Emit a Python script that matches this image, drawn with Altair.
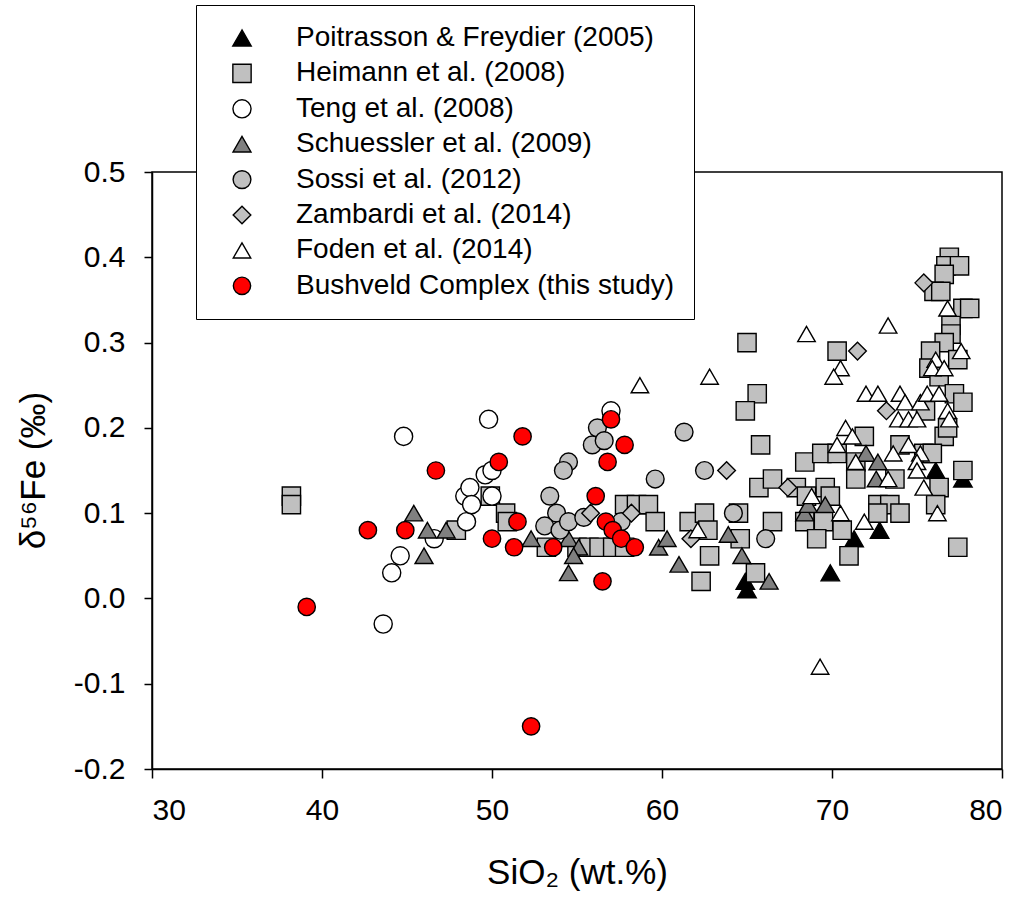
import altair as alt
import pandas as pd

series_names = [
    "Poitrasson & Freydier (2005)",
    "Heimann et al. (2008)",
    "Teng et al. (2008)",
    "Schuessler et al. (2009)",
    "Sossi et al. (2012)",
    "Zambardi et al. (2014)",
    "Foden et al. (2014)",
    "Bushveld Complex (this study)",
]
series_shapes = ["triangle-up", "square", "circle", "triangle-up", "circle", "diamond", "triangle-up", "circle"]
series_fills = ["#000000", "#c0c0c0", "#ffffff", "#808080", "#c0c0c0", "#c0c0c0", "#ffffff", "#ff0000"]
series_strokes = ["#000000"] * 8
series_sizes = [340, 300, 340, 340, 360, 380, 340, 470]

poit_x = [64.9, 65.0, 69.9, 71.3, 72.8, 76.1, 77.7]
poit_y = [0.02, 0.01, 0.03, 0.07, 0.08, 0.15, 0.14]

heim_x = [38.2, 38.2, 47.9, 49.9, 50.8, 50.9, 53.2, 55.0, 55.7, 56.3, 57.1, 57.8,
          57.8, 58.5, 59.2, 59.6, 61.6, 62.3, 62.5, 62.7, 62.8, 64.5, 64.6, 65.5,
          66.5, 65.0, 65.6, 64.9, 65.8, 65.7, 66.5,
          76.9, 76.7, 77.5, 76.6, 76.0, 76.4, 77.7, 78.1, 77.0, 77.0, 76.6, 75.8,
          75.7, 77.4, 76.3, 77.2, 77.7, 75.5, 76.6, 70.3, 77.7, 76.3, 76.1, 77.4,
          68.4, 69.4, 70.3, 71.9, 71.4, 71.4, 73.7, 74.0, 75.4, 67.9, 69.6, 69.9,
          68.5, 68.4, 69.5, 69.1, 70.6, 71.0, 72.7, 73.4, 72.7, 74.0, 75.9, 76.8]
heim_y = [0.12, 0.11, 0.08, 0.12, 0.10, 0.09, 0.06, 0.06, 0.06, 0.06, 0.06, 0.06,
          0.11, 0.11, 0.11, 0.09, 0.09, 0.02, 0.10, 0.08, 0.05, 0.10, 0.07, 0.03,
          0.09, 0.30, 0.24, 0.22, 0.18, 0.13, 0.14,
          0.40, 0.39, 0.39, 0.38, 0.36, 0.36, 0.34, 0.34, 0.32, 0.31, 0.30, 0.29,
          0.27, 0.28, 0.26, 0.24, 0.23, 0.22, 0.19, 0.29, 0.15, 0.13, 0.11, 0.06,
          0.16, 0.17, 0.17, 0.19, 0.16, 0.14, 0.14, 0.18, 0.17, 0.13, 0.13, 0.12,
          0.12, 0.09, 0.09, 0.07, 0.08, 0.05, 0.11, 0.11, 0.10, 0.10, 0.17, 0.20]

teng_x = [43.6, 44.1, 44.6, 44.8, 46.6, 48.4, 48.5, 48.7, 48.8, 49.6, 49.8, 50.0, 50.0, 57.0]
teng_y = [-0.03, 0.03, 0.05, 0.19, 0.07, 0.12, 0.09, 0.13, 0.11, 0.145, 0.21, 0.15, 0.12, 0.22]

schu_x = [45.4, 46.2, 47.3, 46.0, 52.3, 54.5, 55.1, 54.8, 54.5, 59.8, 60.3, 61.0,
          63.9, 64.7, 66.3, 68.4, 68.6, 69.6, 72.0, 72.7, 72.6]
schu_y = [0.10, 0.08, 0.08, 0.05, 0.07, 0.07, 0.06, 0.05, 0.03, 0.06, 0.07, 0.04,
          0.075, 0.05, 0.02, 0.10, 0.11, 0.11, 0.17, 0.16, 0.14]

sossi_x = [56.2, 55.9, 56.6, 54.5, 54.2, 61.3, 59.6, 53.4, 53.8, 53.1, 54.0, 54.5,
           55.4, 62.5, 64.2, 66.1, 57.6]
sossi_y = [0.20, 0.18, 0.185, 0.16, 0.15, 0.195, 0.14, 0.12, 0.10, 0.085, 0.08, 0.09,
           0.095, 0.15, 0.10, 0.07, 0.09]

zamb_x = [58.2, 55.8, 61.7, 63.8, 75.4, 71.5, 73.2, 67.4]
zamb_y = [0.10, 0.10, 0.07, 0.15, 0.37, 0.29, 0.22, 0.13]

foden_x = [58.7, 62.8, 62.1, 68.5, 73.3, 70.5, 70.1, 76.8, 76.1, 75.9, 76.6, 77.6,
           72.0, 72.7, 74.0, 74.3, 75.2, 75.6, 76.3, 73.9, 74.5, 75.0, 76.8, 76.9,
           70.8, 71.2, 70.3, 71.4, 73.6, 74.5, 75.2, 75.0, 75.0, 73.3, 75.4, 68.8,
           70.5, 71.9, 76.2, 69.3]
foden_y = [0.25, 0.26, 0.08, 0.31, 0.32, 0.27, 0.26, 0.34, 0.28, 0.27, 0.27, 0.29,
           0.24, 0.24, 0.24, 0.23, 0.23, 0.24, 0.24, 0.21, 0.21, 0.21, 0.22, 0.21,
           0.20, 0.19, 0.18, 0.16, 0.17, 0.18, 0.17, 0.16, 0.15, 0.14, 0.13, 0.12,
           0.10, 0.09, 0.10, -0.08]

bush_x = [39.1, 42.7, 44.9, 46.7, 50.0, 50.4, 51.3, 51.5, 51.8, 52.3, 53.6, 56.1,
          56.5, 56.7, 56.8, 57.0, 57.1, 57.6, 57.8, 58.4]
bush_y = [-0.01, 0.08, 0.08, 0.15, 0.07, 0.16, 0.06, 0.09, 0.19, -0.15, 0.06, 0.12,
          0.02, 0.09, 0.16, 0.21, 0.08, 0.07, 0.18, 0.06]

x_ticks = [30, 40, 50, 60, 70, 80]
y_ticks = [-0.2, -0.1, 0.0, 0.1, 0.2, 0.3, 0.4, 0.5]

all_x = [poit_x, heim_x, teng_x, schu_x, sossi_x, zamb_x, foden_x, bush_x]
all_y = [poit_y, heim_y, teng_y, schu_y, sossi_y, zamb_y, foden_y, bush_y]

rows = []
for order, (name, xs, ys) in enumerate(zip(series_names, all_x, all_y)):
    for xv, yv in zip(xs, ys):
        rows.append({"series": name, "sio2": xv, "fe": yv, "order": order})
df = pd.DataFrame(rows)

FONT = "Liberation Sans"

chart = alt.Chart(df).mark_point(
    filled=True, strokeWidth=1.4, opacity=1
).encode(
    x=alt.X("sio2:Q",
            scale=alt.Scale(domain=[30, 80], nice=False, zero=False),
            axis=alt.Axis(values=x_ticks, format="d", title="SiO₂ (wt.%)",
                          tickSize=9, labelPadding=17,
                          titleY=114, titleBaseline="alphabetic")),
    y=alt.Y("fe:Q",
            scale=alt.Scale(domain=[-0.2, 0.5], nice=False, zero=False),
            axis=alt.Axis(values=y_ticks, title="δ⁵⁶Fe (‰)",
                          labelExpr="datum.value < -0.0001 ? '-' + format(-datum.value, '.1f') : format(abs(datum.value), '.1f')",
                          tickSize=8, labelPadding=19,
                          titleX=-108, titleY=298, titleBaseline="alphabetic",
                          titleAngle=270, titleAlign="center")),
    shape=alt.Shape("series:N", scale=alt.Scale(domain=series_names, range=series_shapes), title=None),
    fill=alt.Fill("series:N", scale=alt.Scale(domain=series_names, range=series_fills), title=None),
    stroke=alt.Stroke("series:N", scale=alt.Scale(domain=series_names, range=series_strokes), title=None),
    size=alt.Size("series:N", scale=alt.Scale(domain=series_names, range=series_sizes), title=None),
    order=alt.Order("order:Q"),
).properties(
    width=850, height=597,
    padding={"left": 152, "top": 172, "right": 22, "bottom": 128},
    autosize=alt.AutoSizeParams(type="none"),
).configure_view(
    stroke="black", strokeWidth=1.5
).configure_axis(
    grid=False, domainColor="black", domainWidth=1.5, tickColor="black", tickWidth=1.5,
    labelFont=FONT, labelFontSize=30, labelColor="black",
    titleFont=FONT, titleFontSize=35, titleColor="black", titleFontWeight="normal",
).configure_legend(
    orient="none", legendX=44, legendY=-167,
    labelFont=FONT, labelFontSize=28, labelColor="black", labelLimit=0,
    padding=19, strokeColor="black", fillColor="white",
    rowPadding=7.4, symbolStrokeWidth=1.4,
    symbolOffset=13, labelOffset=40,
)

chart.save("out.html", embed_options={"renderer": "svg", "actions": False})
